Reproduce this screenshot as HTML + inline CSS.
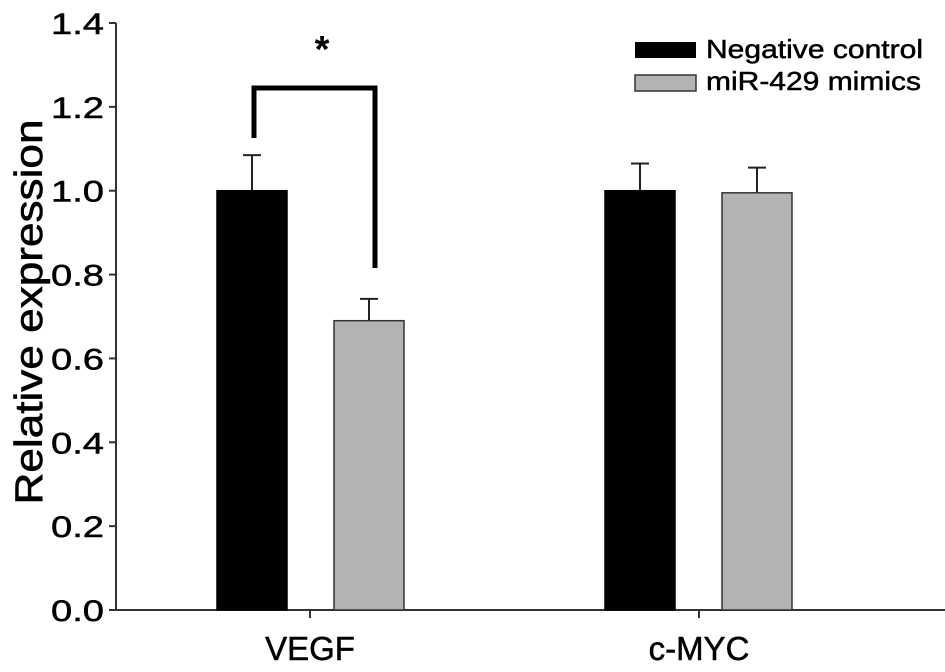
<!DOCTYPE html>
<html><head><meta charset="utf-8"><style>
body{margin:0;background:#fff;}
svg{display:block;font-family:"Liberation Sans",Arial,sans-serif;}
</style></head><body>
<svg id="chart" width="945" height="672" viewBox="0 0 945 672">
<g id="axes"></g><g id="marks"></g>
<text transform="translate(42,312) rotate(-90)" text-anchor="middle" font-size="39" textLength="385" lengthAdjust="spacingAndGlyphs" stroke="#000" stroke-width="0.6">Relative expression</text>
<g>
<polyline points="254,138 254,88 375,88 375,268" fill="none" stroke="#000" stroke-width="5"/>
<text x="322" y="62" text-anchor="middle" font-size="38" font-weight="bold">*</text>
</g>
<g>
<rect x="635" y="42" width="61" height="16" fill="#000"/>
<text x="706" y="58" font-size="26" textLength="217" lengthAdjust="spacingAndGlyphs" stroke="#000" stroke-width="0.5">Negative control</text>
<rect x="635" y="75" width="61" height="16" fill="#b3b3b3" stroke="#333" stroke-width="1.5"/>
<text x="706" y="90" font-size="26" textLength="215" lengthAdjust="spacingAndGlyphs" stroke="#000" stroke-width="0.5">miR-429 mimics</text>
</g>
</svg>
<script>
const categories=["VEGF","c-MYC"];
const negValues=[1.0,1.0];
const negErrors=[0.085,0.065];
const mimicValues=[0.69,0.995];
const mimicErrors=[0.052,0.06];
const yTicks=[0,0.2,0.4,0.6,0.8,1.0,1.2,1.4];
const ns="http://www.w3.org/2000/svg";
const x0=116,x1=945,y0=610,yTop=23;
function y(v){return y0-(v/1.4)*(y0-yTop);}
const catCenters=[310,699];
function xc(i){return catCenters[i];}
const axes=document.getElementById('axes'),marks=document.getElementById('marks');
function mk(p,tag,at){const e=document.createElementNS(ns,tag);for(const k in at)e.setAttribute(k,at[k]);p.appendChild(e);return e;}
let a=mk(axes,'line',{x1:x0,y1:yTop,x2:x0,y2:y0,stroke:'#333','stroke-width':2});


a=mk(axes,'line',{x1:x0,y1:y0,x2:x1,y2:y0,stroke:'#333','stroke-width':2});


yTicks.forEach(t=>{
 const l=mk(axes,'line',{x1:x0-7,y1:y(t),x2:x0,y2:y(t),stroke:'#333','stroke-width':2});
 
 
 const tx=mk(axes,'text',{x:x0-12,y:y(t)+11,'text-anchor':'end','font-size':30,textLength:53,lengthAdjust:'spacingAndGlyphs',stroke:'#000','stroke-width':0.5});
 tx.textContent=t.toFixed(1);
 
 
});
categories.forEach((c,i)=>{
 const l=mk(axes,'line',{x1:xc(i),y1:y0,x2:xc(i),y2:y0+8,stroke:'#333','stroke-width':2});
 
 
 const tx=mk(axes,'text',{x:xc(i),y:y0+50,'text-anchor':'middle','font-size':33,stroke:'#000','stroke-width':0.5});
 tx.textContent=c;
 
 
 const bw=70;
 const series=[[negValues,negErrors,'#000','#000',xc(i)-93],[mimicValues,mimicErrors,'#b3b3b3','#333',xc(i)+24]];
 if(i==1){series[0][4]=xc(i)-94;series[1][4]=xc(i)+23;}
 series.forEach((s,j)=>{
  const v=s[0][i],e=s[1][i],bx=s[4];
  const top=y(v+e);
  const el=mk(marks,'line',{x1:bx+bw/2,y1:top,x2:bx+bw/2,y2:y(v),stroke:'#222','stroke-width':2});
  
  
  const cap=mk(marks,'line',{x1:bx+bw/2-9,y1:top,x2:bx+bw/2+9,y2:top,stroke:'#222','stroke-width':2});
  
  
  const r=mk(marks,'rect',{x:bx,y:y(v),width:bw,height:y0-y(v),fill:s[2],stroke:s[3],'stroke-width':1.5});
  
  
 });
});
</script>
</body></html>
